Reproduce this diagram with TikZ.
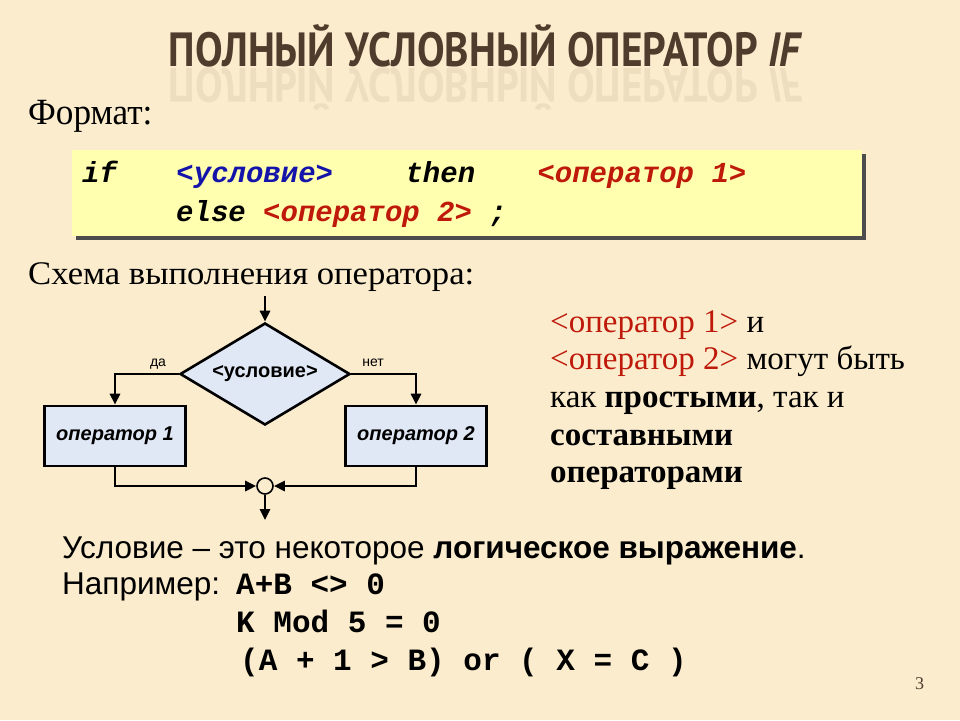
\documentclass[tikz,border=0pt]{standalone}
\usepackage{fontspec}
\setmainfont{Liberation Serif}
\setsansfont{Liberation Sans}
\setmonofont{Liberation Mono}
\newfontfamily\titlefont{PT Sans}
\usetikzlibrary{shapes.geometric,arrows.meta}
\definecolor{bg}{RGB}{250,236,204}
\definecolor{ttl}{RGB}{80,60,45}
\definecolor{codebg}{RGB}{255,255,175}
\definecolor{fc}{RGB}{225,232,245}
\definecolor{cblue}{RGB}{20,20,170}
\definecolor{cred}{RGB}{190,25,10}
\begin{document}
\begin{tikzpicture}[x=1pt,y=-1pt,
  lbl/.style={inner sep=0,anchor=base west},
  fbox/.style={draw,line width=2.6pt,fill=fc,minimum width=141pt,minimum height=60pt,font=\sffamily\bfseries\itshape\fontsize{20}{20}\selectfont},
  flow/.style={line width=2.6pt,-{Triangle[length=11pt,width=10pt]}}]
\fill[bg] (0,0) rectangle (960,720);
\useasboundingbox (0,0) rectangle (960,720);
% title
\node[lbl,anchor=base,text=ttl,xscale=0.86] (title) at (486,66) {\titlefont\bfseries\fontsize{48}{48}\selectfont ПОЛНЫЙ УСЛОВНЫЙ ОПЕРАТОР \textit{IF}};
\node[lbl,anchor=base,text=ttl,xscale=0.86,yscale=-1,opacity=0.08] (refl) at (486,68) {\titlefont\bfseries\fontsize{48}{48}\selectfont ПОЛНЫЙ УСЛОВНЫЙ ОПЕРАТОР \textit{IF}};
\node[lbl,xscale=0.95] (fmt) at (28,124) {\fontsize{37}{37}\selectfont Формат:};
% code box
\fill[black!70] (76,154) rectangle (866,240);
\fill[codebg] (72,150) rectangle (862,236);
\node[lbl] (code1) at (82,182) {\ttfamily\bfseries\itshape\fontsize{29}{29}\selectfont if\hspace{2.05em}\textcolor{cblue}{<условие>}\hspace{2.5em}then\hspace{2.15em}\textcolor{cred}{<оператор 1>}};
\node[lbl] (code2) at (176,221) {\ttfamily\bfseries\itshape\fontsize{29}{29}\selectfont else \textcolor{cred}{<оператор 2>} ;};
\node[lbl,xscale=1.05] (schema) at (28,284) {\fontsize{33}{33}\selectfont Схема выполнения оператора:};
% flowchart
\node[diamond,draw,line width=2.6pt,fill=fc,minimum width=170pt,minimum height=102pt,inner sep=0,aspect=1.67,font=\sffamily\bfseries\fontsize{20}{20}\selectfont] (cond) at (265,374) {<условие>};
\node[fbox] (op1) at (115,436) {оператор 1};
\node[fbox] (op2) at (416,436) {оператор 2};
\node[circle,draw,line width=1.6pt,fill=bg,minimum size=16pt,inner sep=0] (join) at (265,486) {};
\coordinate (in) at (265,296);
\coordinate (out) at (265,520);
\draw[flow] (in) -- (cond.north);
\draw[flow] (cond.west) -| (op1.north);
\draw[flow] (cond.east) -| (op2.north);
\draw[flow] (op1.south) |- (join.west);
\draw[flow] (op2.south) |- (join.east);
\draw[flow] (join.south) -- (out);
\node[lbl,anchor=base,font=\sffamily\fontsize{14}{14}\selectfont] (da) at (158,366) {да};
\node[lbl,anchor=base,font=\sffamily\fontsize{14}{14}\selectfont] (net) at (373,366) {нет};
% right text
\begin{scope}[every node/.style={lbl,font=\fontsize{33}{33}\selectfont}]
\node (r1) at (550,332) {\textcolor{cred}{<оператор 1>} и};
\node (r2) at (550,369) {\textcolor{cred}{<оператор 2>} могут быть};
\node (r3) at (550,407) {как \textbf{простыми}, так и};
\node (r4) at (550,445) {\textbf{составными}};
\node (r5) at (550,482) {\textbf{операторами}};
\end{scope}
% bottom text
\begin{scope}[every node/.style={lbl,font=\sffamily\fontsize{31.5}{31.5}\selectfont}]
\node (b1) at (62,558) {Условие – это некоторое \textbf{логическое выражение}.};
\node (b2) at (62,594) {Например:};
\end{scope}
\begin{scope}[every node/.style={lbl,font=\ttfamily\bfseries\fontsize{31}{31}\selectfont}]
\node (c1) at (236,594) {A+B <> 0};
\node (c2) at (236,632) {K Mod 5 = 0};
\node (c3) at (240,670) {(A + 1 > B) or ( X = C )};
\end{scope}
\node[lbl,text=ttl,font=\fontsize{18}{18}\selectfont] (pg) at (915,689) {3};
\end{tikzpicture}
\end{document}
